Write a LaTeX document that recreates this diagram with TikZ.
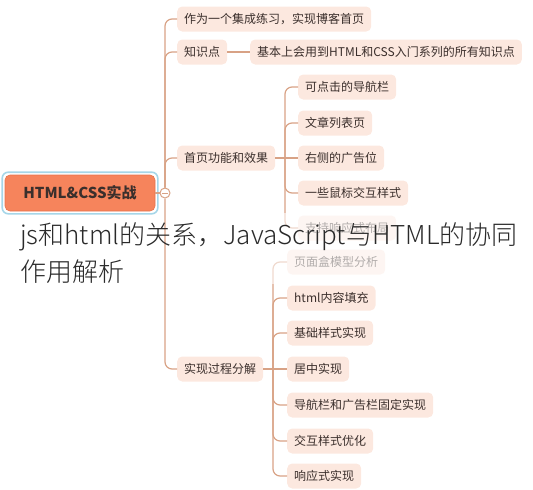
\documentclass[tikz,border=0pt]{standalone}
\usepackage{fontspec}
\setmainfont{Noto Sans CJK SC}
\newfontfamily\lightfont{Noto Sans CJK SC}[UprightFont={* Light}]
\definecolor{nodefill}{HTML}{FCE8DF}
\definecolor{linec}{HTML}{D8A285}
\definecolor{txt}{HTML}{3B2F2C}
\definecolor{rootfill}{HTML}{F6845C}
\definecolor{rootedge}{HTML}{E8724A}
\definecolor{selblue}{HTML}{A6D6E8}
\definecolor{titletxt}{HTML}{2A2A2A}
\begin{document}
\begin{tikzpicture}[x=1pt,y=-1pt,
  leaf/.style={fill=nodefill, rounded corners=5pt, text=txt, font=\fontsize{12}{14}\selectfont, inner xsep=7pt, inner ysep=0pt, minimum height=25pt, anchor=west},
  rootbox/.style={fill=rootfill, draw=rootedge, line width=0.6pt, rounded corners=5pt, text=txt, font=\bfseries\fontsize{15}{17}\selectfont, minimum width=150pt, minimum height=36pt, inner sep=0pt},
  conn/.style={draw=linec, line width=1.2pt, rounded corners=7pt},
  toggle/.style={circle, draw=linec, fill=white, minimum size=10pt, inner sep=0pt, line width=1pt}]
\useasboundingbox (0,0) rectangle (533,490);

% root
\node[rootbox] (r) at (80,193) {HTML\&CSS实战};
\draw[selblue, line width=1.6pt, rounded corners=6pt] ([xshift=-2.5pt,yshift=2.5pt]r.north west) rectangle ([xshift=2.5pt,yshift=-2.5pt]r.south east);
\node[toggle] (t) at (165,193) {};
\draw[linec, line width=1pt] ([xshift=-3pt]t.center) -- ([xshift=3pt]t.center);

% level 1
\node[leaf] (a1) at (177,19) {作为一个集成练习，实现博客首页};
\node[leaf] (a2) at (177,52) {知识点};
\node[leaf] (a2b) at (250,52) {基本上会用到HTML和CSS入门系列的所有知识点};
\node[leaf] (a3) at (177,158) {首页功能和效果};
\node[leaf] (a4) at (177,369) {实现过程分解};

% children of a3
\node[leaf] (b1) at (298,87) {可点击的导航栏};
\node[leaf] (b2) at (298,123) {文章列表页};
\node[leaf] (b3) at (298,158) {右侧的广告位};
\node[leaf] (b4) at (298,193) {一些鼠标交互样式};
\node[leaf] (b5) at (298,228) {支持响应式布局};

% children of a4
\node[leaf] (c1) at (287,262) {页面盒模型分析};
\node[leaf] (c2) at (287,298) {html内容填充};
\node[leaf] (c3) at (287,333) {基础样式实现};
\node[leaf] (c4) at (287,369) {居中实现};
\node[leaf] (c5) at (287,405) {导航栏和广告栏固定实现};
\node[leaf] (c6) at (287,441) {交互样式优化};
\node[leaf] (c7) at (287,476) {响应式实现};

% connectors
\draw[conn] (r.east) -- (t.west);
\draw[conn] (t.north) |- (a1.west);
\draw[conn] (t.north) |- (a2.west);
\draw[conn] (t.north) |- (a3.west);
\draw[conn] (t.south) |- (a4.west);
\draw[conn] (a2.east) -- (a2b.west);

\coordinate (j3) at (285,158);
\draw[conn] (a3.east) -- (j3);
\foreach \n in {b1,b2,b4,b5} \draw[conn] (j3) |- (\n.west);
\draw[conn] (j3) -- (b3.west);

\coordinate (j4) at (273,369);
\draw[conn] (a4.east) -- (j4);
\foreach \n in {c1,c2,c3,c5,c6,c7} \draw[conn] (j4) |- (\n.west);
\draw[conn] (j4) -- (c4.west);

% faded band behind the title
\fill[white, opacity=0.6] (268,213) rectangle (533,284);

% overlaid title
\node[anchor=west, inner sep=0pt, align=left, text=titletxt, font=\lightfont\fontsize{26}{37}\selectfont] (title) at (20,253.5) {js和html的关系，JavaScript与HTML的协同\\作用解析};
\end{tikzpicture}
\end{document}
